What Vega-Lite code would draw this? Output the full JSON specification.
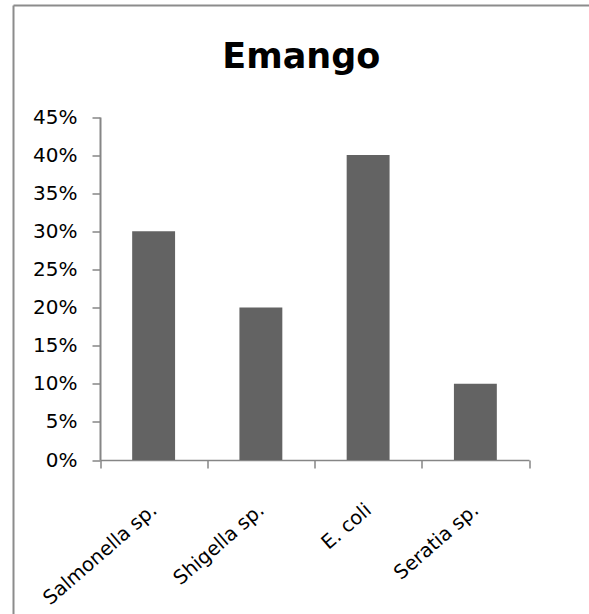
{
  "$schema": "https://vega.github.io/schema/vega-lite/v6.json",
  "autosize": {"type": "none"},
  "width": 575.5,
  "height": 608.5,
  "padding": {"left": 13.5, "top": 5.5, "right": 0, "bottom": 0},
  "background": "white",
  "title": {
    "text": "Emango",
    "font": "DejaVu Sans",
    "fontSize": 35,
    "fontWeight": "bold",
    "color": "black",
    "anchor": "middle",
    "frame": "group",
    "offset": -69
  },
  "data": {
    "values": [
      {"organism": "Salmonella sp.", "share": 0.30},
      {"organism": "Shigella sp.", "share": 0.20},
      {"organism": "E. coli", "share": 0.40},
      {"organism": "Seratia sp.", "share": 0.10}
    ]
  },
  "mark": {"type": "bar", "color": "#636363", "width": {"band": 0.4}},
  "encoding": {
    "x": {
      "field": "organism",
      "type": "nominal",
      "sort": null,
      "scale": {"range": [86.5, 515.5], "paddingInner": 0, "paddingOuter": 0},
      "axis": {
        "title": null,
        "orient": "bottom",
        "offset": -154,
        "labelAngle": -41,
        "labelAlign": "right",
        "labelBaseline": "middle",
        "labelPadding": 39,
        "labelFont": "DejaVu Sans",
        "labelFontSize": 19.5,
        "labelColor": "black",
        "tickBand": "extent",
        "tickSize": 8,
        "tickColor": "#868686",
        "tickWidth": 1.5,
        "domainColor": "#868686",
        "domainWidth": 1.5
      }
    },
    "y": {
      "field": "share",
      "type": "quantitative",
      "scale": {"domain": [0, 0.45], "range": [454.5, 111.5], "nice": false},
      "axis": {
        "title": null,
        "orient": "left",
        "offset": -86.5,
        "values": [0, 0.05, 0.1, 0.15, 0.2, 0.25, 0.3, 0.35, 0.4, 0.45],
        "format": ".0%",
        "grid": false,
        "labelPadding": 15,
        "labelFont": "DejaVu Sans",
        "labelFontSize": 20,
        "labelColor": "black",
        "tickSize": 8,
        "tickColor": "#868686",
        "tickWidth": 1.5,
        "domainColor": "#868686",
        "domainWidth": 2
      }
    }
  },
  "config": {
    "view": {
      "stroke": "#8c8c8c",
      "strokeWidth": 2,
      "strokeDash": [575.5, 1184, 608.5, 0]
    }
  }
}
